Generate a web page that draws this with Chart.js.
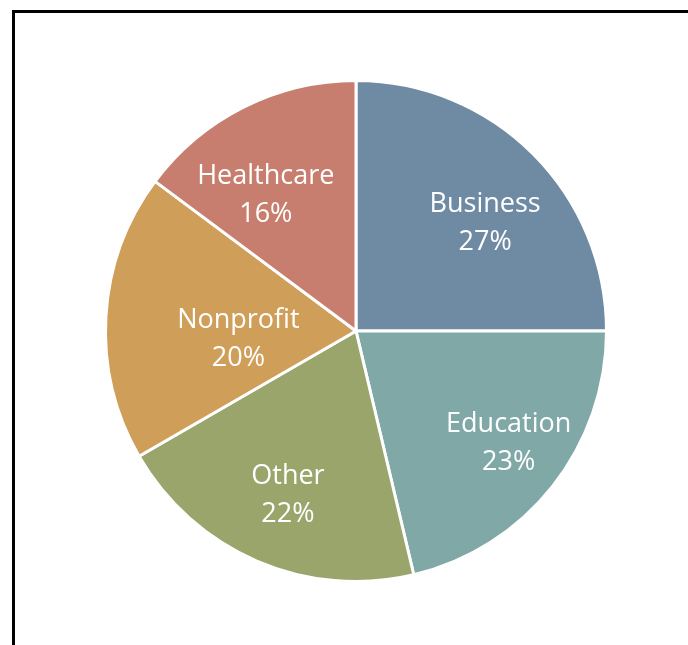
<!DOCTYPE html>
<html>
<head>
<meta charset="utf-8">
<script src="https://cdn.jsdelivr.net/npm/chart.js@4/dist/chart.umd.min.js"></script>
<style>
  html, body { margin: 0; padding: 0; background: #fff; overflow: hidden; }
  #wrap { position: relative; width: 688px; height: 645px; }
  #frame {
    position: absolute; left: 12px; top: 10px; width: 700px; height: 700px;
    border-left: 3px solid #000; border-top: 3px solid #000;
    box-sizing: border-box;
  }
  canvas { position: absolute; left: 0; top: 0; }
</style>
</head>
<body>
<div id="wrap">
  <div id="frame"></div>
  <canvas id="pieChart" width="688" height="645"></canvas>
</div>
<script>
const sectors = ['Business', 'Education', 'Other', 'Nonprofit', 'Healthcare'];
const shares = [27, 23, 22, 20, 16];
const sliceColors = ['#6F8BA4', '#7FA8A7', '#99A56B', '#CF9E59', '#C87E6E'];

// where each label sits: angle shift from the slice middle (deg), radius fraction
const labelShift = [4.3, -2.7, -0.5, -5.7, -6.4];
const labelRadius = [0.68, 0.75, 0.70, 0.47, 0.66];

const sliceLabels = {
  id: 'sliceLabels',
  afterDatasetsDraw(chart) {
    const ctx = chart.ctx;
    const arcs = chart.getDatasetMeta(0).data;
    ctx.save();
    ctx.fillStyle = '#fff';
    ctx.font = '27px "Open Sans"';
    ctx.textAlign = 'center';
    ctx.textBaseline = 'middle';
    arcs.forEach((arc, i) => {
      const p = arc.getProps(['x', 'y', 'startAngle', 'endAngle', 'outerRadius']);
      const mid = (p.startAngle + p.endAngle) / 2 + labelShift[i] * Math.PI / 180;
      const r = p.outerRadius * labelRadius[i];
      const cx = p.x + Math.cos(mid) * r;
      const cy = p.y + Math.sin(mid) * r + 3;
      ctx.fillText(sectors[i], cx, cy - 19);
      ctx.fillText(shares[i] + '%', cx, cy + 19);
    });
    ctx.restore();
  }
};

new Chart(document.getElementById('pieChart'), {
  type: 'pie',
  data: {
    labels: sectors,
    datasets: [{
      data: shares,
      backgroundColor: sliceColors,
      borderColor: '#fff',
      borderWidth: 3,
    }],
  },
  options: {
    responsive: false,
    animation: false,
    layout: { padding: { left: 104, top: 79, right: 80, bottom: 62 } },
    plugins: {
      legend: { display: false },
      tooltip: { enabled: false },
    },
  },
  plugins: [sliceLabels],
});
</script>
</body>
</html>
